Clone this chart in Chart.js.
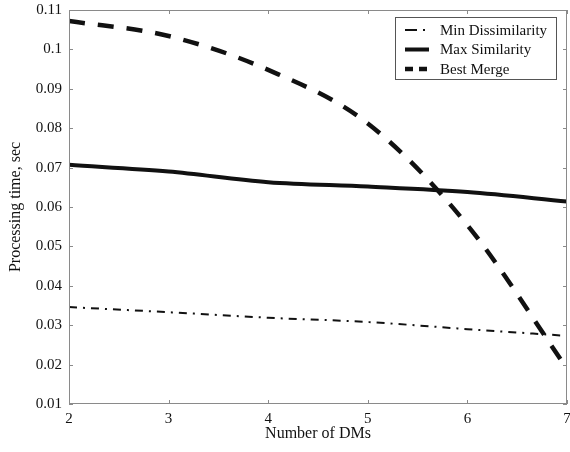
<!DOCTYPE html>
<html>
<head>
<meta charset="utf-8">
<script src="https://cdn.jsdelivr.net/npm/chart.js@4/dist/chart.umd.min.js"></script>
<style>
  html, body { margin: 0; padding: 0; background: #fff; }
  #wrap { width: 570px; height: 452px; }
</style>
</head>
<body>
<div id="wrap"><canvas id="dmChart" width="570" height="452"></canvas></div>
<script>
// values
const dms = [2, 3, 4, 5, 6, 7]
const minDissimilarity = [0.0346, 0.0333, 0.0319, 0.0308, 0.0290, 0.0273]
const maxSimilarity = [0.0707, 0.0690, 0.0663, 0.0652, 0.0638, 0.0614]
const bestMerge = [0.1072, 0.1034, 0.0948, 0.0812, 0.0554, 0.0190]
const yTicks = [0.01, 0.02, 0.03, 0.04, 0.05, 0.06, 0.07, 0.08, 0.09, 0.1, 0.11]

const FONT = "'Liberation Serif', 'Times New Roman', serif"
const INK = '#111'
const AXIS = '#8a8a8a'

const toPts = (vals) => dms.map((x, i) => ({ x: x, y: vals[i] }))

// inward ticks on all four sides + box, matlab style
const boxTicks = {
    id: 'boxTicks',
    afterDraw(chart) {
        const { ctx, chartArea: a, scales } = chart
        ctx.save()
        ctx.strokeStyle = AXIS
        ctx.lineWidth = 1
        ctx.strokeRect(a.left + 0.5, a.top + 0.5, a.right - a.left - 1, a.bottom - a.top - 1)
        ctx.beginPath()
        dms.forEach(v => {
            const px = Math.round(scales.x.getPixelForValue(v)) + 0.5
            ctx.moveTo(px, a.bottom); ctx.lineTo(px, a.bottom - 4)
            ctx.moveTo(px, a.top); ctx.lineTo(px, a.top + 4)
        })
        yTicks.forEach(v => {
            const py = Math.round(scales.y.getPixelForValue(v)) + 0.5
            ctx.moveTo(a.left, py); ctx.lineTo(a.left + 4, py)
            ctx.moveTo(a.right, py); ctx.lineTo(a.right - 4, py)
        })
        ctx.stroke()
        ctx.restore()
    }
}

// legend box drawn inside the plot, top right
const innerLegend = {
    id: 'innerLegend',
    afterDraw(chart) {
        const { ctx, chartArea: a } = chart
        const w = 161, h = 62
        const x0 = a.right - 11 - w, y0 = a.top + 7
        ctx.save()
        ctx.fillStyle = '#fff'
        ctx.fillRect(x0, y0, w, h)
        ctx.strokeStyle = '#555'
        ctx.lineWidth = 1
        ctx.strokeRect(x0 + 0.5, y0 + 0.5, w, h)
        ctx.font = '15px ' + FONT
        ctx.textBaseline = 'middle'
        chart.data.datasets.forEach((ds, i) => {
            const yy = y0 + 13 + i * 19.5
            ctx.beginPath()
            ctx.strokeStyle = ds.borderColor
            ctx.lineWidth = ds.borderWidth
            ctx.setLineDash(ds.legendDash || [])
            ctx.moveTo(x0 + 10, yy)
            ctx.lineTo(x0 + 34, yy)
            ctx.stroke()
            ctx.setLineDash([])
            ctx.fillStyle = INK
            ctx.fillText(ds.label, x0 + 45, yy + 1)
        })
        ctx.restore()
    }
}

new Chart(document.getElementById('dmChart'), {
    type: 'line',
    data: {
        datasets: [{
            label: 'Min Dissimilarity',
            data: toPts(minDissimilarity),
            borderColor: INK,
            borderWidth: 2,
            borderDash: [8, 6, 2, 6],
            legendDash: [12, 6, 2, 6]
        }, {
            label: 'Max Similarity',
            data: toPts(maxSimilarity),
            borderColor: INK,
            borderWidth: 4
        }, {
            label: 'Best Merge',
            data: toPts(bestMerge),
            borderColor: INK,
            borderWidth: 4.5,
            borderDash: [16, 13],
            legendDash: [8, 6]
        }]
    },
    options: {
        responsive: false,
        animation: false,
        layout: { padding: { top: 10, right: 3, left: 0, bottom: 0 } },
        elements: {
            point: { radius: 0 },
            line: { cubicInterpolationMode: 'monotone', fill: false, borderCapStyle: 'butt' }
        },
        plugins: {
            legend: { display: false },
            tooltip: { enabled: false }
        },
        scales: {
            x: {
                type: 'linear',
                min: 2,
                max: 7,
                afterFit: (s) => { s.height = 48; s.paddingRight = 0; s.paddingLeft = 0 },
                afterBuildTicks: (s) => { s.ticks = dms.map(v => ({ value: v })) },
                grid: { display: false, drawTicks: false },
                border: { display: false },
                ticks: {
                    padding: 6,
                    color: INK,
                    font: { family: FONT, size: 15 },
                    maxRotation: 0,
                    callback: (v) => String(v)
                },
                title: {
                    display: true,
                    text: 'Number of DMs',
                    color: INK,
                    font: { family: FONT, size: 16 },
                    padding: { top: 0, bottom: 9 }
                }
            },
            y: {
                type: 'linear',
                min: 0.01,
                max: 0.11,
                afterFit: (s) => { s.width = 69; s.paddingTop = 0; s.paddingBottom = 0 },
                afterBuildTicks: (s) => { s.ticks = yTicks.map(v => ({ value: v })) },
                grid: { display: false, drawTicks: false },
                border: { display: false },
                ticks: {
                    padding: 7,
                    color: INK,
                    font: { family: FONT, size: 15 },
                    callback: (v) => String(Math.round(v * 100) / 100)
                },
                title: {
                    display: true,
                    text: 'Processing time, sec',
                    color: INK,
                    font: { family: FONT, size: 16 },
                    padding: { top: 6, bottom: 0 }
                }
            }
        }
    },
    plugins: [boxTicks, innerLegend]
})
</script>
</body>
</html>
